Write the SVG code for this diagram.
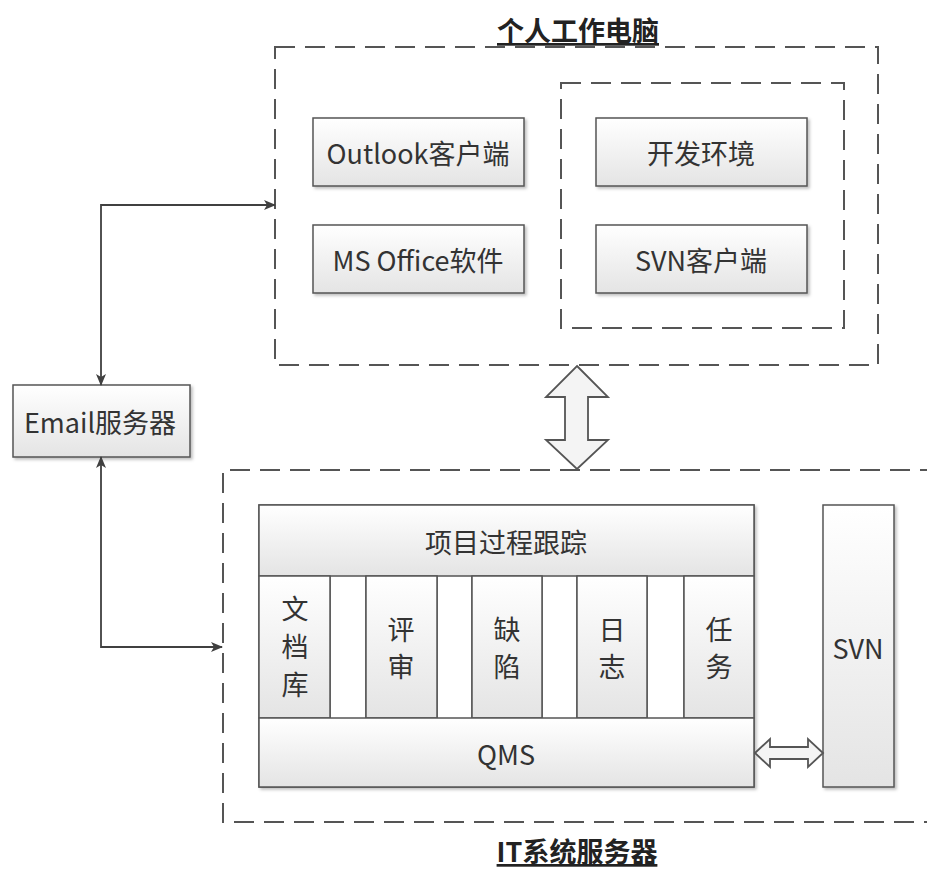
<svg xmlns="http://www.w3.org/2000/svg" width="927" height="872" viewBox="0 0 927 872">
<defs>
<linearGradient id="g" x1="0" y1="0" x2="0" y2="1">
<stop offset="0" stop-color="#ffffff"/>
<stop offset="1" stop-color="#e4e4e4"/>
</linearGradient>
<filter id="sh" x="-10%" y="-10%" width="130%" height="130%">
<feDropShadow dx="2" dy="2" stdDeviation="1.5" flood-color="#000" flood-opacity="0.25"/>
</filter>
<marker id="ah" viewBox="0 0 12 10" refX="11" refY="5" markerWidth="12" markerHeight="10" markerUnits="userSpaceOnUse" orient="auto-start-reverse">
<path d="M0,0 L12,5 L0,10 L3,5 Z" fill="#404040"/>
</marker>
<style>
.box{fill:url(#g);stroke:#555;stroke-width:1.5;filter:url(#sh)}
.plain{fill:url(#g);stroke:#555;stroke-width:1.5}
.gap{fill:#fff;stroke:none}
.dash{fill:none;stroke:#555;stroke-width:2;stroke-dasharray:20,10}
.t{font-family:"Noto Sans CJK SC","Noto Sans",sans-serif;font-size:27px;fill:#333;text-anchor:middle;dominant-baseline:central}
.ttl{font-family:"Noto Sans CJK SC","Noto Sans",sans-serif;font-size:27px;font-weight:bold;fill:#222;text-anchor:middle;text-decoration:underline}
.con{fill:none;stroke:#404040;stroke-width:1.8}
.hollow{fill:#f4f4f4;stroke:#555;stroke-width:1.8;stroke-linejoin:miter}
</style>
</defs>
<rect width="927" height="872" fill="#fff"/>

<g id="pc-group">
<rect class="dash" x="275" y="47" width="603" height="318"/>
<text class="ttl" x="578" y="41">个人工作电脑</text>
<rect class="dash" x="561" y="83" width="283" height="245"/>
</g>
<g id="outlook"><rect class="box" x="313" y="118" width="211" height="68"/><text class="t" x="418" y="152">Outlook客户端</text></g>
<g id="msoffice"><rect class="box" x="313" y="225" width="211" height="68"/><text class="t" x="418" y="259">MS Office软件</text></g>
<g id="devenv"><rect class="box" x="596" y="118" width="211" height="68"/><text class="t" x="701" y="152">开发环境</text></g>
<g id="svnclient"><rect class="box" x="596" y="225" width="211" height="68"/><text class="t" x="701" y="259">SVN客户端</text></g>

<g id="email"><rect class="box" x="13" y="385" width="177" height="72"/><text class="t" x="100" y="421">Email服务器</text></g>

<g id="it-group">
<path class="dash" d="M940,470 H223 V822 H940"/>
<text class="ttl" x="577" y="862">IT系统服务器</text>
</g>

<g id="main-block">
<rect class="box" x="259" y="505" width="495" height="282"/>
</g>
<g id="tracking"><rect class="plain" x="259" y="505" width="495" height="71"/><text class="t" x="506" y="541">项目过程跟踪</text></g>
<g id="gaps">
<rect class="gap" x="330" y="577" width="36" height="141"/>
<rect class="gap" x="437" y="577" width="35" height="141"/>
<rect class="gap" x="542" y="577" width="35" height="141"/>
<rect class="gap" x="647" y="577" width="37" height="141"/>
<path d="M330,576 V718 M366,576 V718 M437,576 V718 M472,576 V718 M542,576 V718 M577,576 V718 M647,576 V718 M684,576 V718" stroke="#555" stroke-width="1.5"/>
</g>
<g id="doclib"><rect class="plain" x="259" y="576" width="71" height="142"/><text class="t" x="295" y="607">文</text><text class="t" x="295" y="645">档</text><text class="t" x="295" y="683">库</text></g>
<g id="review"><rect class="plain" x="366" y="576" width="71" height="142"/><text class="t" x="401" y="628">评</text><text class="t" x="401" y="665">审</text></g>
<g id="defect"><rect class="plain" x="472" y="576" width="70" height="142"/><text class="t" x="507" y="628">缺</text><text class="t" x="507" y="665">陷</text></g>
<g id="log"><rect class="plain" x="577" y="576" width="70" height="142"/><text class="t" x="612" y="628">日</text><text class="t" x="612" y="665">志</text></g>
<g id="task"><rect class="plain" x="684" y="576" width="70" height="142"/><text class="t" x="719" y="628">任</text><text class="t" x="719" y="665">务</text></g>
<g id="qms"><rect class="plain" x="259" y="718" width="495" height="69"/><text class="t" x="506" y="753">QMS</text></g>
<g id="svn"><rect class="box" x="823" y="505" width="71" height="282"/><text class="t" x="858" y="647">SVN</text></g>

<g id="connectors">
<path class="con" d="M101,385 V205 H275" marker-start="url(#ah)" marker-end="url(#ah)"/>
<path class="con" d="M101,457 V647 H222" marker-start="url(#ah)" marker-end="url(#ah)"/>
<path class="hollow" d="M577,366 L608,397 H588 V440 H608 L577,469 L546,440 H565 V397 H546 Z"/>
<path class="hollow" d="M755,753 L770,739 V747 H808 V739 L823,753 L808,767 V759 H770 V767 Z"/>
</g>
</svg>
